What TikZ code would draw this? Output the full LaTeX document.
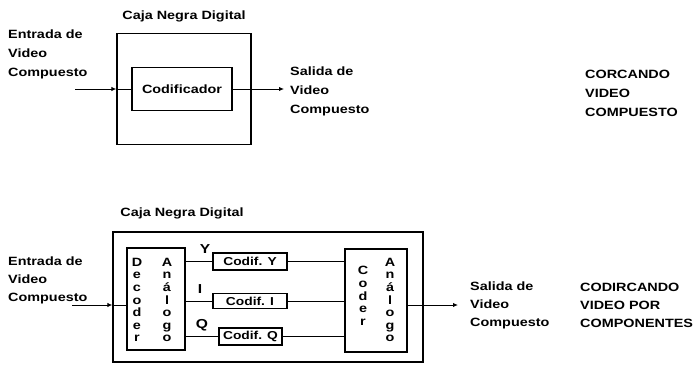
\documentclass[tikz,border=0pt]{standalone}
\usepackage{fontspec}
\setmainfont{Liberation Sans}[FakeStretch=1.2]
\usetikzlibrary{arrows.meta}

\begin{document}
\begin{tikzpicture}[x=1pt,y=-1pt,
  caja/.style={draw,line width=1.3pt,inner sep=0pt},
  bloque/.style={draw,line width=1.2pt,inner sep=0pt,font=\fontsize{11.5}{13}\selectfont\bfseries},
  titulo/.style={inner sep=0pt,font=\fontsize{12}{14}\selectfont\bfseries},
  texto/.style={align=left,anchor=west,inner sep=0pt,font=\fontsize{12}{19}\selectfont\bfseries},
  letras/.style={align=center,inner sep=0pt,font=\fontsize{12}{12.6}\selectfont\bfseries},
  senal/.style={line width=1pt,-{Latex[length=5pt,width=4.5pt]}},
  linea/.style={line width=1pt}]
\useasboundingbox (0,0) rectangle (700,369);

% codificando video compuesto
\node[titulo] (tit1) at (184,16) {Caja Negra Digital};
\node[caja,minimum width=134,minimum height=111] (caja1) at (184,89) {};
\node[bloque,minimum width=100,minimum height=43,font=\fontsize{12}{14}\selectfont\bfseries] (cod) at (182,89) {Codificador};
\coordinate (ent1) at (75,89);
\coordinate (sal1) at (284,89);
\draw[senal] (ent1) -- (caja1.west);
\draw[linea] (caja1.west) -- (cod.west);
\draw[senal] (cod.east) -- (sal1);
\node[texto] (entrada1) at (8,54) {Entrada de\\Video\\Compuesto};
\node[texto] (salida1) at (290,91) {Salida de\\Video\\Compuesto};
\node[texto] (nota1) at (585,93) {CORCANDO\\VIDEO\\COMPUESTO};

% codificando video por componentes
\node[titulo] (tit2) at (182,213) {Caja Negra Digital};
\node[caja,minimum width=310,minimum height=130] (caja2) at (268,297) {};
\node[bloque,minimum width=58,minimum height=102] (deco) at (156,299) {};
\node[letras] (deco-a) at (137,300) {D\\e\\c\\o\\d\\e\\r};
\node[letras] (deco-b) at (167,300) {A\\n\\á\\l\\o\\g\\o};
\node[bloque,minimum width=74,minimum height=17] (cy) at (250,261.5) {Codif. Y};
\node[bloque,minimum width=74,minimum height=15] (ci) at (250,301) {Codif. I};
\node[bloque,minimum width=63,minimum height=17] (cq) at (250.5,336.5) {Codif. Q};
\node[bloque,minimum width=62,minimum height=103] (coder) at (376,300.5) {};
\node[letras] (coder-a) at (363,296) {C\\o\\d\\e\\r};
\node[letras] (coder-b) at (390,300) {A\\n\\á\\l\\o\\g\\o};
\node[titulo,font=\fontsize{13}{15}\selectfont\bfseries] (ly) at (205,249) {Y};
\node[titulo,font=\fontsize{13}{15}\selectfont\bfseries] (li) at (200,289) {I};
\node[titulo,font=\fontsize{13}{15}\selectfont\bfseries] (lq) at (202,325) {Q};
\foreach \c in {cy,ci,cq}{
  \draw[linea] (deco.east |- \c.west) -- (\c.west);
  \draw[linea] (\c.east) -- (\c.east -| coder.west);
}
\coordinate (ent2) at (72,305);
\coordinate (sal2) at (458,305);
\draw[senal] (ent2) -- (ent2 -| caja2.west);
\draw[linea] (ent2 -| caja2.west) -- (ent2 -| deco.west);
\draw[senal] (sal2 -| coder.east) -- (sal2);
\node[texto,font=\fontsize{12}{18}\selectfont\bfseries] (entrada2) at (8,280) {Entrada de\\Video\\Compuesto};
\node[texto,font=\fontsize{12}{18}\selectfont\bfseries] (salida2) at (470,305) {Salida de\\Video\\Compuesto};
\node[texto,font=\fontsize{12}{18}\selectfont\bfseries] (nota2) at (580,305) {CODIRCANDO\\VIDEO POR\\COMPONENTES};
\end{tikzpicture}
\end{document}
